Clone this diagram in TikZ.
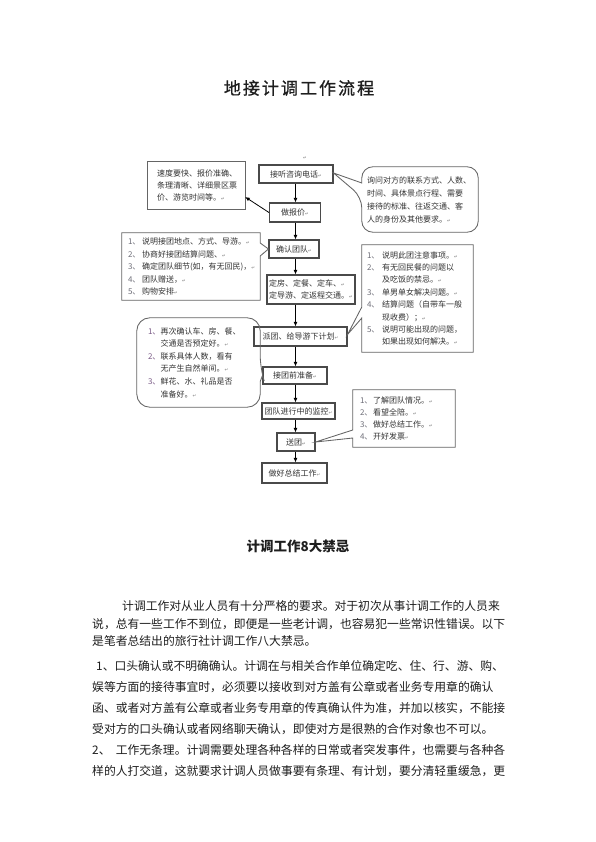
\documentclass[tikz,border=0pt]{standalone}
\usepackage{fontspec}
\setmainfont{Noto Sans CJK SC}
\newfontfamily\djv{DejaVu Sans}
\usetikzlibrary{arrows.meta}
\definecolor{boxline}{HTML}{4A4A4A}
\definecolor{ftext}{HTML}{333333}
\definecolor{numc}{HTML}{6E6E78}
\definecolor{nump}{HTML}{7A5A86}
\definecolor{bodyc}{HTML}{1E1E1E}
\newcommand{\rt}{{\djv\fontsize{4.5}{4.5}\selectfont\textcolor{gray}{↵}}}
\newcommand{\nm}[2][14pt]{\makebox[#1][l]{\textcolor{numc}{#2}}}
\newcommand{\np}[2][12.5pt]{\makebox[#1][l]{\textcolor{nump}{#2}}}
\newcommand{\fsm}{\fontsize{8}{12}\selectfont}
\newcommand{\bodyf}{\fontsize{11.8}{14}\selectfont\XeTeXlinebreaklocale "zh"\XeTeXlinebreakskip=0pt plus 3pt\relax}
\newcommand{\jl}[2]{\makebox[#1][s]{#2}}
\tikzset{
  mainbox/.style={draw=boxline, line width=1.1pt, inner sep=0pt, font=\fsm, text=ftext, align=center},
  cbox/.style={draw=none, inner ysep=0pt, align=left, text=ftext},
  calloutline/.style={draw=boxline!85, line width=0.85pt},
  arr/.style={-{Latex[length=4.5pt,width=4pt]}, line width=0.8pt, black},
  body/.style={anchor=base west, inner sep=0pt, font=\bodyf, text=bodyc},
}
\begin{document}
\begin{tikzpicture}[x=1pt,y=-1pt]
\useasboundingbox[fill=white] (0,0) rectangle (595,842);

% titles
\node[inner sep=0pt, text=bodyc, font=\fontsize{17}{17}\selectfont\addfontfeature{LetterSpace=12,FakeBold=1}] (title) at (299,88) {地接计调工作流程};
\node[inner sep=0pt, text=bodyc, font=\fontsize{13.5}{13.5}\selectfont\bfseries] (head2) at (298,546) {计调工作8大禁忌};

% main column
\coordinate (ax) at (295.5,0);
\node (pm0) at (305,158) {\rt};
\node[mainbox, minimum width=74pt, minimum height=18pt] (n1) at (296,174) {接听咨询电话\rt};
\node[mainbox, minimum width=51pt, minimum height=19pt] (n2) at (295,212.5) {做报价\rt};
\node[mainbox, minimum width=50pt, minimum height=18pt] (n3) at (294,249) {确认团队\rt};
\node[mainbox, minimum width=88pt, minimum height=29pt, align=left, font=\fontsize{8}{12}\selectfont] (n4) at (311,289.5) {定房、定餐、定车、\rt\\定导游、定返程交通。\rt};
\node[mainbox, minimum width=93pt, minimum height=19pt] (n5) at (300.5,336.5) {派团、给导游下计划\rt};
\node[mainbox, minimum width=64pt, minimum height=17pt] (n6) at (295,375.5) {接团前准备\rt};
\node[mainbox, minimum width=73pt, minimum height=16pt] (n7) at (298.5,411) {团队进行中的监控\rt};
\node[mainbox, minimum width=38pt, minimum height=18pt] (n8) at (296,442) {送团\rt};
\node[mainbox, minimum width=65pt, minimum height=20pt] (n9) at (294.5,473) {做好总结工作\rt};

\draw[arr] (n1.south -| ax) -- (n2.north -| ax);
\draw[arr] (n2.south -| ax) -- (n3.north -| ax);
\draw[arr] (n3.south -| ax) -- (n4.north -| ax);
\draw[arr] (n4.south -| ax) -- (n5.north -| ax);
\draw[arr] (n5.south -| ax) -- (n6.north -| ax);
\draw[arr] (n6.south -| ax) -- (n7.north -| ax);
\draw[arr] (n7.south -| ax) -- (n8.north -| ax);
\draw[arr] (n8.south -| ax) -- (n9.north -| ax);

% side boxes
\node[cbox, font=\fontsize{8}{12}\selectfont, minimum height=47pt, inner xsep=9pt, text width=79pt] (A) at (196.5,185.5)
 {速度要快、报价准确、\\条理清晰、详细景区票\\价、游览时间等。\rt};
\draw[calloutline] (A.north west) rectangle (A.south east);
\draw[arr] (n2.west) -- ([yshift=-11.5pt]A.east);

\node[cbox, font=\fontsize{8}{12.5}\selectfont, minimum height=67pt, inner xsep=6pt, text width=126pt] (B) at (191,266.5)
 {\nm{1、}说明接团地点、方式、导游。\rt\\
  \nm{2、}协商好接团结算问题、\rt\\
  \nm{3、}确定团队细节(如，有无回民)，\rt\\
  \nm{4、}团队赠送，\rt\\
  \nm{5、}购物安排\rt};
\draw[calloutline] (B.north west) -- (B.north east) -- ([yshift=23.5pt]B.east) -- (n3.west)
  -- ([yshift=10.5pt]B.east) -- (B.south east) -- (B.south west) -- cycle;

\node[cbox, font=\fontsize{8}{13}\selectfont, minimum height=65pt, inner xsep=5pt, text width=106pt] (C) at (420,199.5)
 {询问对方的联系方式、人数、\\时间、具体景点行程、需要\\接待的标准、往返交通、客\\人的身份及其他要求。\rt};
\draw[calloutline, rounded corners=11pt] (C.north west) -- (C.north east) -- (C.south east) -- (C.south west)
  -- ([yshift=2.5pt]C.west) [sharp corners] -- ([yshift=1pt]n1.east) -- ([yshift=16.5pt]C.west) [rounded corners=11pt] -- cycle;

\node[cbox, font=\fontsize{8}{12.4}\selectfont, minimum height=107pt, inner xsep=5pt, text width=101pt] (D) at (417.5,298.5)
 {\nm[15pt]{1、}说明此团注意事项。\rt\\
  \nm[15pt]{2、}有无回民餐的问题以\\
  \nm[15pt]{}及吃饭的禁忌。\rt\\
  \nm[15pt]{3、}单男单女解决问题。\rt\\
  \nm[15pt]{4、}结算问题（自带车一般\\
  \nm[15pt]{}现收费）；\rt\\
  \nm[15pt]{5、}说明可能出现的问题，\\
  \nm[15pt]{}如果出现如何解决。\rt};
\draw[calloutline] (D.north west) -- (D.north east) -- (D.south east) -- (D.south west)
  -- ([yshift=-19.5pt]D.west) -- ([yshift=2pt]n5.east) -- ([yshift=-8.5pt]D.west) -- cycle;

\node[cbox, font=\fontsize{8}{12.6}\selectfont, minimum height=89pt, inner xsep=11pt, text width=101pt] (E) at (198.5,362.5)
 {\np{1、}再次确认车、房、餐、\\
  \np{}交通是否预定好。\rt\\
  \np{2、}联系具体人数，看有\\
  \np{}无产生自然单间。\rt\\
  \np{3、}鲜花、水、礼品是否\\
  \np{}准备好。\rt};
\draw[calloutline, rounded corners=13pt] (E.south east) -- (E.south west) -- (E.north west) -- (E.north east)
  -- ([yshift=-6pt]E.east) [sharp corners] -- (n6.west) -- ([yshift=-19pt]E.east) [rounded corners=13pt] -- cycle;

\node[cbox, font=\fontsize{8}{12.3}\selectfont, minimum height=57pt, inner xsep=7pt, text width=88pt] (F) at (404,418.5)
 {\nm[13pt]{1、}了解团队情况。\rt\\
  \nm[13pt]{2、}看望全陪。\rt\\
  \nm[13pt]{3、}做好总结工作。\rt\\
  \nm[13pt]{4、}开好发票\rt};
\draw[calloutline] (F.north west) -- (F.north east) -- (F.south east) -- (F.south west)
  -- ([yshift=-19.5pt]F.west) -- (n8.east) -- ([yshift=-11.5pt]F.west) -- cycle;

% body text
\node[body] (p1a) at (122,610.5) {\jl{383pt}{计调工作对从业人员有十分严格的要求。对于初次从事计调工作的人员来}};
\node[body] (p1b) at (92,628.5) {\jl{413pt}{说，总有一些工作不到位，即便是一些老计调，也容易犯一些常识性错误。以下}};
\node[body] (p1c) at (92,645.5) {是笔者总结出的旅行社计调工作八大禁忌。};
\node[body] (p2a) at (96,670.5) {\jl{409pt}{1、口头确认或不明确确认。计调在与相关合作单位确定吃、住、行、游、购、}};
\node[body] (p2b) at (92,691.5) {\jl{413pt}{娱等方面的接待事宜时，必须要以接收到对方盖有公章或者业务专用章的确认}};
\node[body] (p2c) at (92,712.5) {\jl{413pt}{函、或者对方盖有公章或者业务专用章的传真确认件为准，并加以核实，不能接}};
\node[body] (p2d) at (92,733.5) {\jl{413pt}{受对方的口头确认或者网络聊天确认，即使对方是很熟的合作对象也不可以。}};
\node[body] (p3a) at (92,754.5) {\jl{413pt}{2、 工作无条理。计调需要处理各种各样的日常或者突发事件，也需要与各种各}};
\node[body] (p3b) at (92,775.5) {\jl{413pt}{样的人打交道，这就要求计调人员做事要有条理、有计划，要分清轻重缓急，更}};
\end{tikzpicture}
\end{document}
